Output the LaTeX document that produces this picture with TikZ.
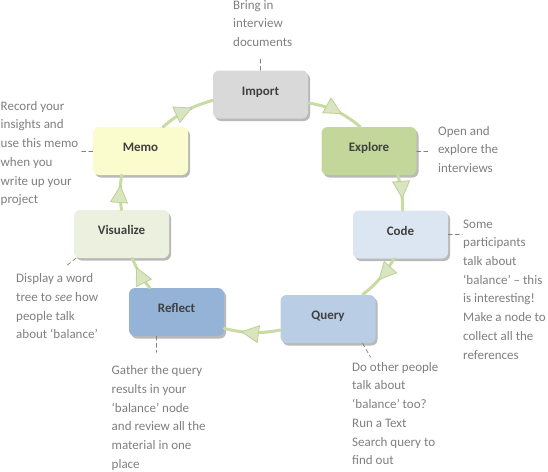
\documentclass[tikz,border=0pt]{standalone}
\usepackage{fontspec}
\setmainfont{Carlito}
\usetikzlibrary{arrows.meta}
\usetikzlibrary{shadows}
\usetikzlibrary{decorations.markings}

\definecolor{boxtext}{HTML}{404040}
\definecolor{notegray}{HTML}{7F7F7F}
\definecolor{importgray}{HTML}{D9D9D9}
\definecolor{exploregreen}{HTML}{C4D79B}
\definecolor{codeblue}{HTML}{DCE6F2}
\definecolor{queryblue}{HTML}{B9CDE5}
\definecolor{reflectblue}{HTML}{95B3D7}
\definecolor{visgreen}{HTML}{EBF1DE}
\definecolor{memoyellow}{HTML}{FAFCCE}
\definecolor{ringline}{HTML}{C8DBA2}
\definecolor{ringfill}{HTML}{D8E5BF}
\definecolor{ringedge}{HTML}{BCD193}

\tikzset{
  stage/.style={rectangle,rounded corners=6pt,minimum width=95pt,minimum height=48pt,inner sep=0pt,
    text=boxtext,font=\fontsize{13}{16}\selectfont\bfseries,text height=9pt,text depth=7.5pt,
    drop shadow={shadow xshift=2pt,shadow yshift=-2.5pt,opacity=0.55}},
  note/.style={anchor=north west,inner sep=0pt,align=left,text=notegray,font=\fontsize{13}{18.7}\selectfont},
  ring/.style={draw=ringline,line width=3pt,postaction={decorate},
    decoration={markings,mark=at position #1 with {\arrow{Triangle[length=18pt,width=18pt,line width=0.8pt,fill=ringfill,color=ringedge]}}}},
  lead/.style={draw=notegray,line width=0.7pt,dash pattern=on 4pt off 3pt}
}

\begin{document}
\begin{tikzpicture}[line cap=round,line join=round,x=1pt,y=1pt]
        \useasboundingbox (0,0) rectangle (548,-471);
        % stages of the cycle
        \node[stage,fill=importgray] (imp) at (260.5,-94.5) {Import};
        \node[stage,fill=exploregreen] (exp) at (369,-151) {Explore};
        \node[stage,fill=codeblue] (cod) at (400.5,-234.5) {Code};
        \node[stage,fill=queryblue] (qry) at (328,-319) {Query};
        \node[stage,fill=reflectblue] (ref) at (176.5,-312) {Reflect};
        \node[stage,fill=visgreen] (vis) at (121.5,-234) {Visualize};
        \node[stage,fill=memoyellow] (mem) at (140.5,-151) {Memo};
        % ring
        \foreach \a/\b/\c/\p in {imp.-10/exp.110/15/0.62,exp.-40/cod.85/8/0.68,cod.-105/qry.35/10/0.55,qry.193/ref.-19/12/0.7,ref.138/vis.-66/8/0.72,vis.90/mem.-128/8/0.72,mem.47/imp.187/12/0.62}
        \draw[ring=\p] (\a) to[bend left=\c] (\b);
        % notes
        \node[note] (impnote) at (233,0) {Bring in\\interview\\documents};
        \node[note] (expnote) at (438,-126) {Open and\\explore the\\interviews};
        \node[note] (codnote) at (463,-219.5) {Some\\participants\\talk about\\‘balance’ – this\\is interesting!\\Make a node to\\collect all the\\references};
        \node[note] (qrynote) at (352,-362) {Do other people\\talk about\\‘balance’ too?\\Run a Text\\Search query to\\find out};
        \node[note] (refnote) at (111.5,-365.5) {Gather the query\\results in your\\‘balance’ node\\and review all the\\material in one\\place};
        \node[note] (visnote) at (16,-273.5) {Display a word\\tree to \emph{see} how\\people talk\\about ‘balance’};
        \node[note] (memnote) at (0.5,-101) {Record your\\insights and\\use this memo\\when you\\write up your\\project};
        % leaders
        \draw[lead] (imp.north) -- ++(0,13);
        \draw[lead] (exp.east) -- ++(12,0);
        \draw[lead] (cod.east) -- ++(14,0);
        \draw[lead] (qry.-35) -- ++(8,-14);
        \draw[lead] (ref.-130) -- ++(0,-16);
        \draw[lead] (vis.-152) -- ++(-10,-8);
        \draw[lead] (mem.west) -- ++(-11,0);
\end{tikzpicture}
\end{document}
